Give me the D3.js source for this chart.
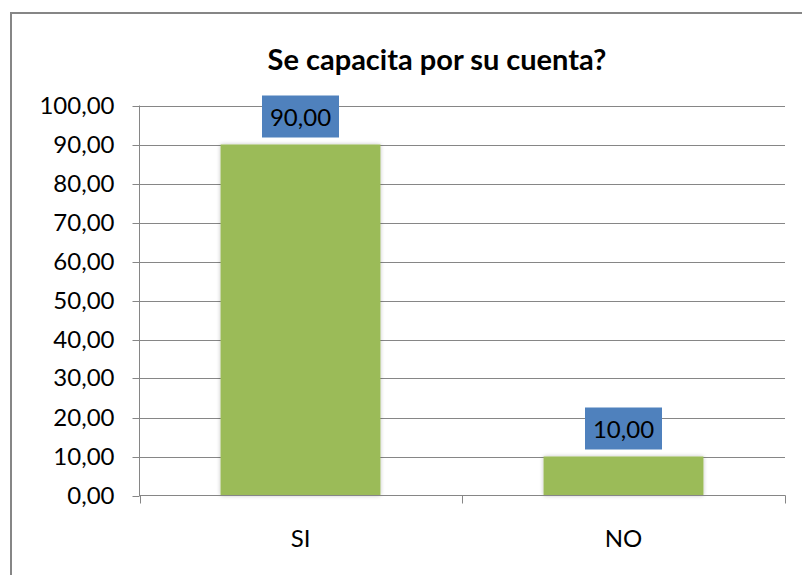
<!DOCTYPE html>
<html>
<head>
<meta charset="utf-8">
<script src="https://cdn.jsdelivr.net/npm/d3@7"></script>
<style>
  body { margin: 0; background: #fff; }
  svg { display: block; font-family: Lato, "Open Sans", sans-serif; }
</style>
</head>
<body>
<div id="chart"></div>
<script>
'use strict';

// Chart data
var title = 'Se capacita por su cuenta?';
var categories = ['SI', 'NO'];
var values = [90, 10];
var yTicks = [0, 10, 20, 30, 40, 50, 60, 70, 80, 90, 100];

var width = 802, height = 575;
var plot = { left: 139, right: 785, top: 105.5, bottom: 495.5 };

var svg = d3.select('#chart').append('svg')
  .attr('width', width)
  .attr('height', height);

// Drop shadow for the bars
var defs = svg.append('defs');
var filter = defs.append('filter').attr('id', 'shadow')
  .attr('x', '-10%').attr('y', '-10%').attr('width', '120%').attr('height', '120%');
filter.append('feGaussianBlur').attr('in', 'SourceAlpha').attr('stdDeviation', 2);
filter.append('feComponentTransfer').append('feFuncA').attr('type', 'linear').attr('slope', 0.25);
var merge = filter.append('feMerge');
merge.append('feMergeNode');
merge.append('feMergeNode').attr('in', 'SourceGraphic');

// Outer chart border
svg.append('rect')
  .attr('x', 11).attr('y', 13)
  .attr('width', 900).attr('height', 700)
  .attr('fill', '#fff')
  .attr('stroke', '#868686')
  .attr('stroke-width', 2);

// Scales
var x = d3.scaleBand()
  .domain(categories)
  .range([plot.left, plot.right])
  .paddingInner(0.505)
  .paddingOuter(0.2525);

var y = d3.scaleLinear()
  .domain([0, 100])
  .range([plot.bottom, plot.top]);

var fmt = function(v) { return d3.format('.2f')(v).replace('.', ','); };

// Gridlines
svg.append('g')
  .selectAll('line')
  .data(yTicks.filter(function(d) { return d > 0; }))
  .join('line')
  .attr('x1', plot.left).attr('x2', plot.right)
  .attr('y1', function(d) { return Math.round(y(d)) + 0.5; })
  .attr('y2', function(d) { return Math.round(y(d)) + 0.5; })
  .attr('stroke', '#868686')
  .attr('stroke-width', 1);

// Y axis
var yAxis = svg.append('g')
  .attr('transform', 'translate(' + (plot.left + 0.5) + ',0)')
  .call(d3.axisLeft(y).tickValues(yTicks).tickFormat(fmt).tickSize(7).tickPadding(18));
yAxis.select('.domain').attr('stroke', '#868686').attr('d', 'M0,' + plot.top + 'V' + plot.bottom);
yAxis.selectAll('.tick line').attr('stroke', '#868686');
yAxis.selectAll('.tick').attr('transform', function(d) {
  return 'translate(0,' + (Math.round(y(d)) + 0.5) + ')';
});
yAxis.selectAll('.tick text')
  .attr('font-size', 24)
  .attr('font-family', 'Lato, sans-serif')
  .attr('fill', '#000');

// Bars
svg.append('g')
  .selectAll('rect')
  .data(values)
  .join('rect')
  .attr('x', function(d, i) { return x(categories[i]); })
  .attr('y', function(d) { return y(d); })
  .attr('width', x.bandwidth())
  .attr('height', function(d) { return plot.bottom - y(d); })
  .attr('fill', '#9BBB59')
  .attr('filter', 'url(#shadow)');

// X axis
var xAxis = svg.append('g')
  .attr('transform', 'translate(0,' + (plot.bottom) + ')');
xAxis.append('line')
  .attr('x1', plot.left).attr('x2', plot.right + 0.5)
  .attr('y1', 0).attr('y2', 0)
  .attr('stroke', '#868686');
xAxis.selectAll('.xtick')
  .data([plot.left + 0.5].concat(categories.map(function(c) { return x(c) + x.bandwidth() + x.step() * x.paddingInner() / 2; })))
  .join('line')
  .attr('class', 'xtick')
  .attr('x1', function(d) { return Math.round(d) + 0.5; })
  .attr('x2', function(d) { return Math.round(d) + 0.5; })
  .attr('y1', 0).attr('y2', 8)
  .attr('stroke', '#868686');
xAxis.selectAll('text')
  .data(categories)
  .join('text')
  .attr('x', function(d) { return x(d) + x.bandwidth() / 2; })
  .attr('y', 51)
  .attr('text-anchor', 'middle')
  .attr('font-size', 24)
  .attr('fill', '#000')
  .text(function(d) { return d; });

// Data labels
var labels = svg.append('g')
  .selectAll('g')
  .data(values)
  .join('g')
  .attr('transform', function(d, i) {
    return 'translate(' + (x(categories[i]) + x.bandwidth() / 2) + ',' + (y(d) - 7) + ')';
  });
labels.append('rect')
  .attr('x', -38.5).attr('y', -42)
  .attr('width', 77).attr('height', 42)
  .attr('fill', '#4F81BD');
labels.append('text')
  .attr('y', -12)
  .attr('text-anchor', 'middle')
  .attr('font-size', 24)
  .attr('fill', '#000')
  .text(function(d) { return fmt(d); });

// Title
svg.append('text')
  .attr('x', 437)
  .attr('y', 70)
  .attr('text-anchor', 'middle')
  .attr('font-size', 29)
  .attr('font-weight', 'bold')
  .attr('fill', '#000')
  .text(title);
</script>
</body>
</html>
